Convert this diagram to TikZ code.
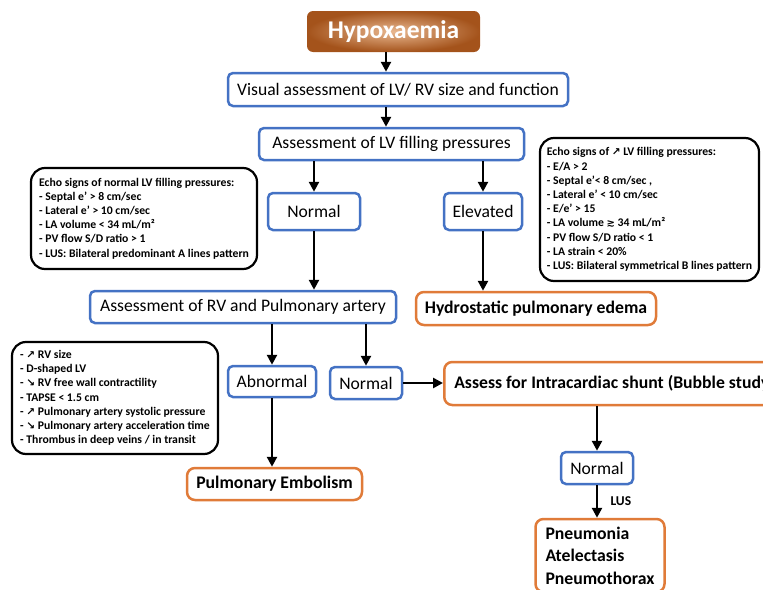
\documentclass[tikz,border=0pt]{standalone}
\usepackage{fontspec}
\setmainfont{Carlito}
\newfontfamily\symf{DejaVu Sans}
\usetikzlibrary{arrows.meta}
\definecolor{bbl}{HTML}{4472C4}
\definecolor{org}{HTML}{E07B39}
\definecolor{hypout}{HTML}{A4531B}
\definecolor{hypin}{HTML}{E9B890}
\newcommand{\nearr}{{\symf\fontsize{10.5}{14}\selectfont ↗}}
\newcommand{\searr}{{\symf\fontsize{10.5}{14}\selectfont ↘}}
\newcommand{\gtsim}{{\symf\fontsize{10}{14}\selectfont ≳}}
\begin{document}
\begin{tikzpicture}[x=1pt,y=-1pt,
  bbox/.style={draw=bbl, line width=2.5pt, rounded corners=5pt, fill=white,
    font=\fontsize{17.6}{20}\selectfont, inner sep=0pt, align=center},
  obox/.style={draw=org, line width=2.5pt, rounded corners=8pt, fill=white,
    font=\fontsize{17.7}{22.5}\selectfont\bfseries, inner sep=0pt},
  ebox/.style={draw=black, line width=2.2pt, rounded corners=14pt, fill=white,
    font=\fontsize{11.7}{14.2}\selectfont\bfseries, align=left, inner sep=0pt},
  arr/.style={line width=2.5pt, -{Triangle[length=10pt,width=10pt]}}]
\useasboundingbox (0,0) rectangle (763,589);
\clip (0,0) rectangle (763,589);
\coordinate (c1) at (386,0);

\node[rounded corners=6pt, inner color=hypin, outer color=hypout,
  minimum width=173pt, minimum height=41pt, inner sep=0pt,
  text=white, font=\fontsize{25.5}{28}\selectfont\bfseries] (hyp) at (393.5,31.5) {Hypoxaemia};
\node[bbox, minimum width=340pt, minimum height=33pt] (vis) at (398,89.5) {Visual assessment of LV/ RV size and function};
\node[bbox, minimum width=265pt, minimum height=32pt] (fil) at (391.5,144) {Assessment of LV filling pressures};
\node[bbox, minimum width=92pt, minimum height=37pt] (nor1) at (314,211.5) {Normal};
\node[bbox, minimum width=78pt, minimum height=37pt] (ele) at (483,211.5) {Elevated};

\node[ebox, minimum width=226pt, minimum height=101pt] (echoL) at (144,218.5) {Echo signs of normal LV filling pressures:\\
- Septal e’ > 8 cm/sec\\
- Lateral e’ > 10 cm/sec\\
- LA volume < 34 mL/m²\\
- PV flow S/D ratio > 1\\
- LUS: Bilateral predominant A lines pattern};

\node[ebox, minimum width=219pt, minimum height=143pt] (echoR) at (649.5,209.5) {Echo signs of \nearr{} LV filling pressures:\\
- E/A > 2\\
- Septal e’< 8 cm/sec ,\\
- Lateral e’ < 10 cm/sec\\
- E/e’ > 15\\
- LA volume \gtsim{} 34 mL/m²\\
- PV flow S/D ratio < 1\\
- LA strain < 20\%\\
- LUS: Bilateral symmetrical B lines pattern};

\node[bbox, minimum width=306pt, minimum height=32pt] (rv) at (243,307) {Assessment of RV and Pulmonary artery};
\node[obox, minimum width=240pt, minimum height=33pt] (hyd) at (536,308.5) {Hydrostatic pulmonary edema};

\node[ebox, minimum width=206pt, minimum height=112pt] (echoRV) at (115,398) {- \nearr{} RV size\\
- D-shaped LV\\
- \searr{} RV free wall contractility\\
- TAPSE < 1.5 cm\\
- \nearr{} Pulmonary artery systolic pressure\\
- \searr{} Pulmonary artery acceleration time\\
- Thrombus in deep veins / in transit};

\node[bbox, minimum width=88pt, minimum height=31pt] (abn) at (272,381.5) {Abnormal};
\node[bbox, minimum width=72pt, minimum height=32pt] (nor2) at (366,383) {Normal};
\node[obox, minimum height=43pt, inner xsep=10pt, anchor=west] (shu) at (443,383.5) {Assess for Intracardiac shunt (Bubble study)};
\node[bbox, minimum width=72pt, minimum height=32pt] (nor3) at (597,468) {Normal};
\node[obox, minimum width=129pt, minimum height=73pt, align=left] (pne) at (600,555.5) {Pneumonia\\Atelectasis\\Pneumothorax};
\node[obox, minimum width=175pt, minimum height=32pt] (pe) at (274.5,484) {Pulmonary Embolism};

\draw[arr] (hyp.south -| c1) -- (vis.north -| c1);
\draw[arr] (vis.south -| c1) -- (fil.north -| c1);
\draw[arr] (fil.south -| nor1) -- (nor1.north);
\draw[arr] (fil.south -| ele) -- (ele.north);
\draw[arr] (nor1.south) -- (nor1.south |- rv.north);
\draw[arr] (ele.south) -- (ele.south |- hyd.north);
\draw[arr] (rv.south -| abn) -- (abn.north);
\draw[arr] (rv.south -| nor2) -- (nor2.north);
\draw[arr] (nor2.east) -- (nor2.east -| shu.west);
\draw[arr] (shu.south -| nor3) -- (nor3.north);
\draw[arr] (nor3.south) -- node[right=9pt, font=\fontsize{13.5}{15}\selectfont\bfseries] (lus) {LUS} (nor3.south |- pne.north);
\draw[arr] (abn.south) -- (abn.south |- pe.north);
\end{tikzpicture}
\end{document}
